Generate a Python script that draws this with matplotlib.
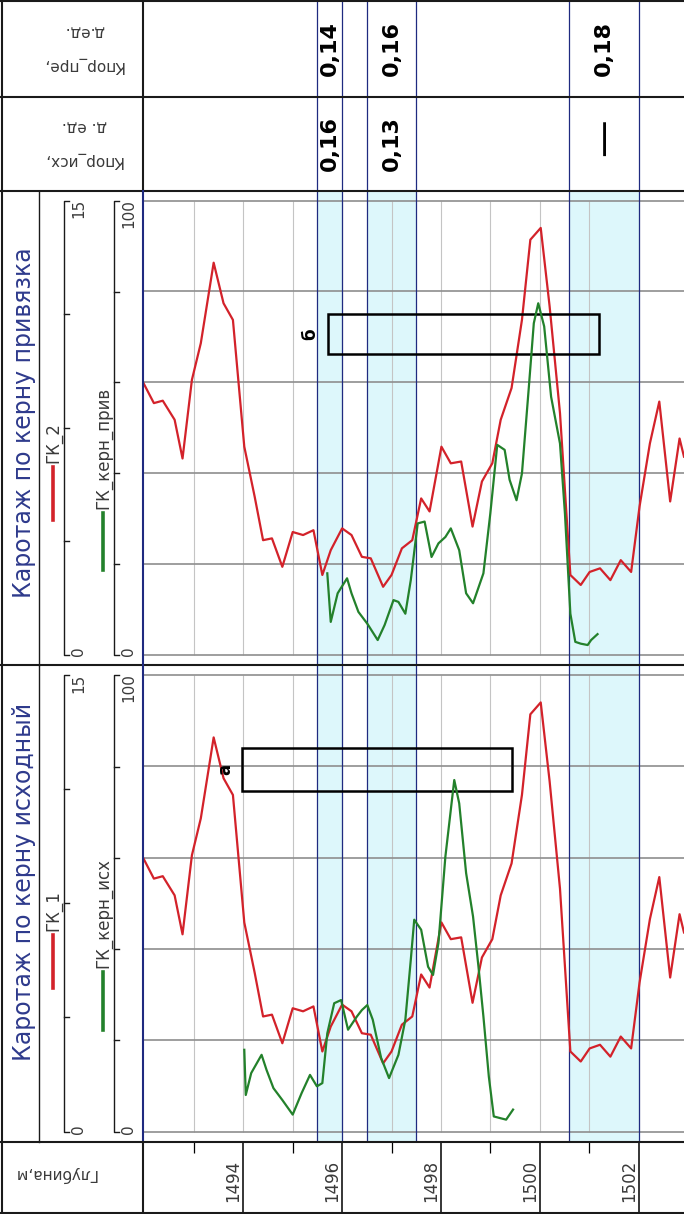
import matplotlib.pyplot as plt
from matplotlib.patches import Rectangle

# ГК_1 / ГК_2 (same gamma log in both tracks), scale 0-15
gk_depth = [1491.98, 1492.19, 1492.37, 1492.61, 1492.77, 1492.96, 1493.14, 1493.40,
            1493.60, 1493.79, 1494.02, 1494.23, 1494.40, 1494.58, 1494.79, 1495.00,
            1495.21, 1495.42, 1495.60, 1495.77, 1496.00, 1496.19, 1496.40, 1496.58,
            1496.83, 1497.00, 1497.21, 1497.42, 1497.60, 1497.77, 1498.01, 1498.20,
            1498.41, 1498.64, 1498.83, 1499.04, 1499.21, 1499.43, 1499.64, 1499.81,
            1500.02, 1500.20, 1500.41, 1500.62, 1500.83, 1501.01, 1501.22, 1501.43,
            1501.64, 1501.85, 1502.02, 1502.23, 1502.42, 1502.64, 1502.83, 1502.92]
gk = [8.97, 8.31, 8.39, 7.76, 6.48, 9.08, 10.29, 12.95, 11.61, 11.06, 6.87, 5.22,
      3.78, 3.84, 2.90, 4.05, 3.95, 4.11, 2.63, 3.45, 4.17, 3.95, 3.23, 3.18,
      2.24, 2.63, 3.51, 3.78, 5.16, 4.73, 6.87, 6.32, 6.38, 4.23, 5.72, 6.32,
      7.76, 8.81, 11.06, 13.71, 14.10, 11.51, 7.98, 2.63, 2.30, 2.73, 2.85, 2.46,
      3.12, 2.73, 4.89, 6.98, 8.36, 5.06, 7.14, 6.54]

# ГК_керн_исх, scale 0-100
kern_ish_depth = [1494.02, 1494.05, 1494.16, 1494.37, 1494.47, 1494.61, 1494.79, 1495.00,
                  1495.18, 1495.35, 1495.49, 1495.60, 1495.70, 1495.84, 1495.98, 1496.12,
                  1496.30, 1496.40, 1496.51, 1496.62, 1496.79, 1496.95, 1497.14, 1497.28,
                  1497.39, 1497.46, 1497.60, 1497.74, 1497.84, 1497.95, 1498.09, 1498.27,
                  1498.37, 1498.51, 1498.65, 1498.76, 1498.86, 1498.97, 1499.07, 1499.21,
                  1499.32, 1499.46]
kern_ish = [17.9, 8.0, 12.8, 16.8, 13.5, 9.5, 6.9, 3.7, 8.4, 12.4, 9.9, 10.6, 21.5, 28.1,
            28.8, 22.3, 25.2, 26.6, 27.7, 24.5, 16.1, 11.7, 16.8, 24.5, 37.6, 46.4, 44.2,
            36.1, 34.3, 41.3, 60.2, 77.0, 71.9, 56.6, 47.1, 36.1, 25.2, 12.0, 3.3, 2.9,
            2.6, 4.8]

# ГК_керн_прив, scale 0-100
kern_priv_depth = [1495.70, 1495.77, 1495.91, 1496.10, 1496.19, 1496.33, 1496.51, 1496.72,
                   1496.86, 1497.04, 1497.14, 1497.28, 1497.39, 1497.53, 1497.67, 1497.81,
                   1497.95, 1498.09, 1498.20, 1498.37, 1498.51, 1498.65, 1498.86, 1499.00,
                   1499.14, 1499.29, 1499.39, 1499.53, 1499.64, 1499.78, 1499.88, 1499.97,
                   1500.09, 1500.23, 1500.41, 1500.51, 1500.62, 1500.72, 1500.83, 1500.97,
                   1501.04, 1501.17]
kern_priv = [17.9, 7.2, 13.5, 16.8, 13.5, 9.4, 6.8, 3.2, 6.5, 12.0, 11.6, 9.0, 16.4, 28.9,
             29.3, 21.5, 24.5, 25.9, 27.8, 23.0, 13.5, 11.3, 17.9, 31.1, 46.2, 45.1, 38.5,
             34.0, 39.9, 59.0, 73.0, 77.4, 72.3, 56.8, 46.5, 31.1, 9.0, 2.8, 2.4, 2.1,
             3.2, 4.5]

# sample intervals and porosity
intervals = [(1495.5, 1496.0), (1496.5, 1497.5), (1500.6, 1502.0)]
kpor_pre = [0.14, 0.16, 0.18]
kpor_ish = [0.16, 0.13, None]

# core interval boxes: depth from-to, value from-to
box_a = (1493.98, 1499.44)
box_a_val = (74.6, 84.0)
box_b = (1495.71, 1501.20)
box_b_val = (66.2, 75.1)

depth_labels = [1494, 1496, 1498, 1500, 1502]

W, H = 684, 1214
X0 = 143.3
DMIN, DMAX = 1491.976, 1502.92
VMIN, VMAX = -2.3, 102.2

RED = '#d3222a'
GREEN = '#23812b'
NAVY = '#1f2a80'
CYAN = '#ddf7fb'
TXT = '#3a3a3a'

plt.rcParams['font.family'] = ['DejaVu Sans']

fig = plt.figure(figsize=(W / 100, H / 100), dpi=100)


def px_axes(x0, y0, x1, y1, z=1):
    return fig.add_axes([x0 / W, 1 - y1 / H, (x1 - x0) / W, (y1 - y0) / H], zorder=z)


def interval_lines(ax):
    for a, b in intervals:
        ax.axvline(a, color=NAVY, lw=0.9)
        ax.axvline(b, color=NAVY, lw=0.9)


def log_track(y0, y1, kd, kv, box, box_val, box_label):
    ax = px_axes(X0, y0, W, y1)
    ax.set_xlim(DMIN, DMAX)
    ax.set_ylim(VMIN, VMAX)
    ax.set_axis_off()
    for a, b in intervals:
        ax.axvspan(a, b, color=CYAN, lw=0)
    ax.vlines(range(1493, 1503), 0, 100, color='#c4c4c4', lw=0.8)
    ax.hlines(range(0, 101, 20), DMIN, DMAX, color='#8e8e8e', lw=1.2)
    interval_lines(ax)

    axr = ax.twinx()
    axr.set_zorder(2)
    axr.set_ylim(VMIN * 0.15, VMAX * 0.15)
    axr.plot(gk_depth, gk, color=RED, lw=1.6)
    axr.set_axis_off()

    axg = ax.twinx()
    axg.set_zorder(3)
    axg.set_ylim(VMIN, VMAX)
    axg.plot(kd, kv, color=GREEN, lw=1.6)
    axg.add_patch(Rectangle((box[0], box_val[0]), box[1] - box[0], box_val[1] - box_val[0],
                            fill=False, ec='k', lw=1.8))
    axg.text(box[0] - 0.35, sum(box_val) / 2, box_label, rotation=90, ha='center',
             va='center', fontsize=12, fontweight='bold')
    axg.set_axis_off()


log_track(190.7, 665, kern_priv_depth, kern_priv, box_b, box_b_val, 'б')
log_track(665, 1142, kern_ish_depth, kern_ish, box_a, box_a_val, 'а')

# porosity rows
for y0, y1, vals in [(0, 97, kpor_pre), (97, 190.7, kpor_ish)]:
    ax = px_axes(X0, y0, W, y1)
    ax.set_xlim(DMIN, DMAX)
    ax.set_ylim(0, 1)
    ax.set_axis_off()
    interval_lines(ax)
    for (a, b), v in zip(intervals, vals):
        if v is None:
            ax.text((a + b) / 2, 0.57, '—', rotation=90, ha='center', va='center', fontsize=27)
        else:
            ax.text((a + b) / 2, 0.5, f'{v:.2f}'.replace('.', ','), rotation=90,
                    ha='center', va='center', fontsize=16, fontweight='bold')

# depth scale
axd = px_axes(X0, 1142, W, H)
axd.set_xlim(DMIN, DMAX)
axd.set_ylim(72, 0)
axd.set_axis_off()
axd.vlines(range(1493, 1503, 2), 0, 11, color='k', lw=0.9)
axd.vlines(depth_labels, 0, 72, color='k', lw=1.1)
for d in depth_labels:
    axd.text(d - 0.2, 39, str(d), rotation=90, ha='center', va='center', fontsize=12, color=TXT)

# header column and borders
ov = px_axes(0, 0, W, H, z=5)
ov.set_xlim(0, W)
ov.set_ylim(H, 0)
ov.set_axis_off()
for y in [1, 97, 190.7, 665, 1142, 1213]:
    ov.plot([0, W], [y, y], color='#1a1a1a', lw=1.5)
ov.plot([1.5, 1.5], [0, H], color='#1a1a1a', lw=1.5)
ov.plot([X0, X0], [0, 190.7], color='#1a1a1a', lw=1.5)
ov.plot([X0, X0], [190.7, 1142], color=NAVY, lw=1.5)
ov.plot([X0, X0], [1142, H], color='#1a1a1a', lw=1.5)

ov.text(84, 32, 'д.ед.', rotation=180, ha='center', va='center', fontsize=11, color=TXT)
ov.text(83, 65, 'Кпор_пре,', rotation=180, ha='center', va='center', fontsize=11, color=TXT)
ov.text(84, 127, 'д. ед.', rotation=180, ha='center', va='center', fontsize=11, color=TXT)
ov.text(83, 160, 'Кпор_исх,', rotation=180, ha='center', va='center', fontsize=11, color=TXT)
ov.text(55, 1174, 'Глубина,м', rotation=180, ha='center', va='center', fontsize=11, color=TXT)


def track_header(y0, y1, title, title_y, red_name, red_line, green_name, green_line):
    ov.plot([38.5, 38.5], [y0, y1], color='#1a1a1a', lw=1)
    ov.text(24, title_y, title, rotation=90, ha='center', va='center', fontsize=17,
            color='#2e3a8c')
    ov.plot([53, 53], red_line, color=RED, lw=2.6)
    ov.text(53, red_line[0] - 4, red_name, rotation=90, ha='center', va='bottom',
            fontsize=12, color=TXT)
    ov.plot([102.5, 102.5], green_line, color=GREEN, lw=2.6)
    ov.text(103, green_line[0] - 4, green_name, rotation=90, ha='center', va='bottom',
            fontsize=12, color=TXT)
    gy0, gy1 = y0 + 10.3, y1 - 10.5
    for bx, n, top in [(63.5, 4, '15'), (113.5, 5, '100')]:
        ov.plot([bx + 5, bx, bx, bx + 5], [gy0, gy0, gy1, gy1], color='#1a1a1a', lw=1)
        for k in range(1, n):
            yy = gy0 + (gy1 - gy0) * k / n
            ov.plot([bx, bx + 5], [yy, yy], color='#1a1a1a', lw=1)
        ov.text(bx + 15, gy0 - 2, top, rotation=90, ha='center', va='top', fontsize=11, color=TXT)
        ov.text(bx + 15, gy1 + 2, '0', rotation=90, ha='center', va='bottom', fontsize=11, color=TXT)


track_header(190.7, 665, 'Каротаж по керну привязка', 423, 'ГК_2', (467, 520),
             'ГК_керн_прив', (513, 570))
track_header(665, 1142, 'Каротаж по керну исходный', 882, 'ГК_1', (935, 988),
             'ГК_керн_исх', (972, 1030))

fig.savefig('out.png', dpi=100)
